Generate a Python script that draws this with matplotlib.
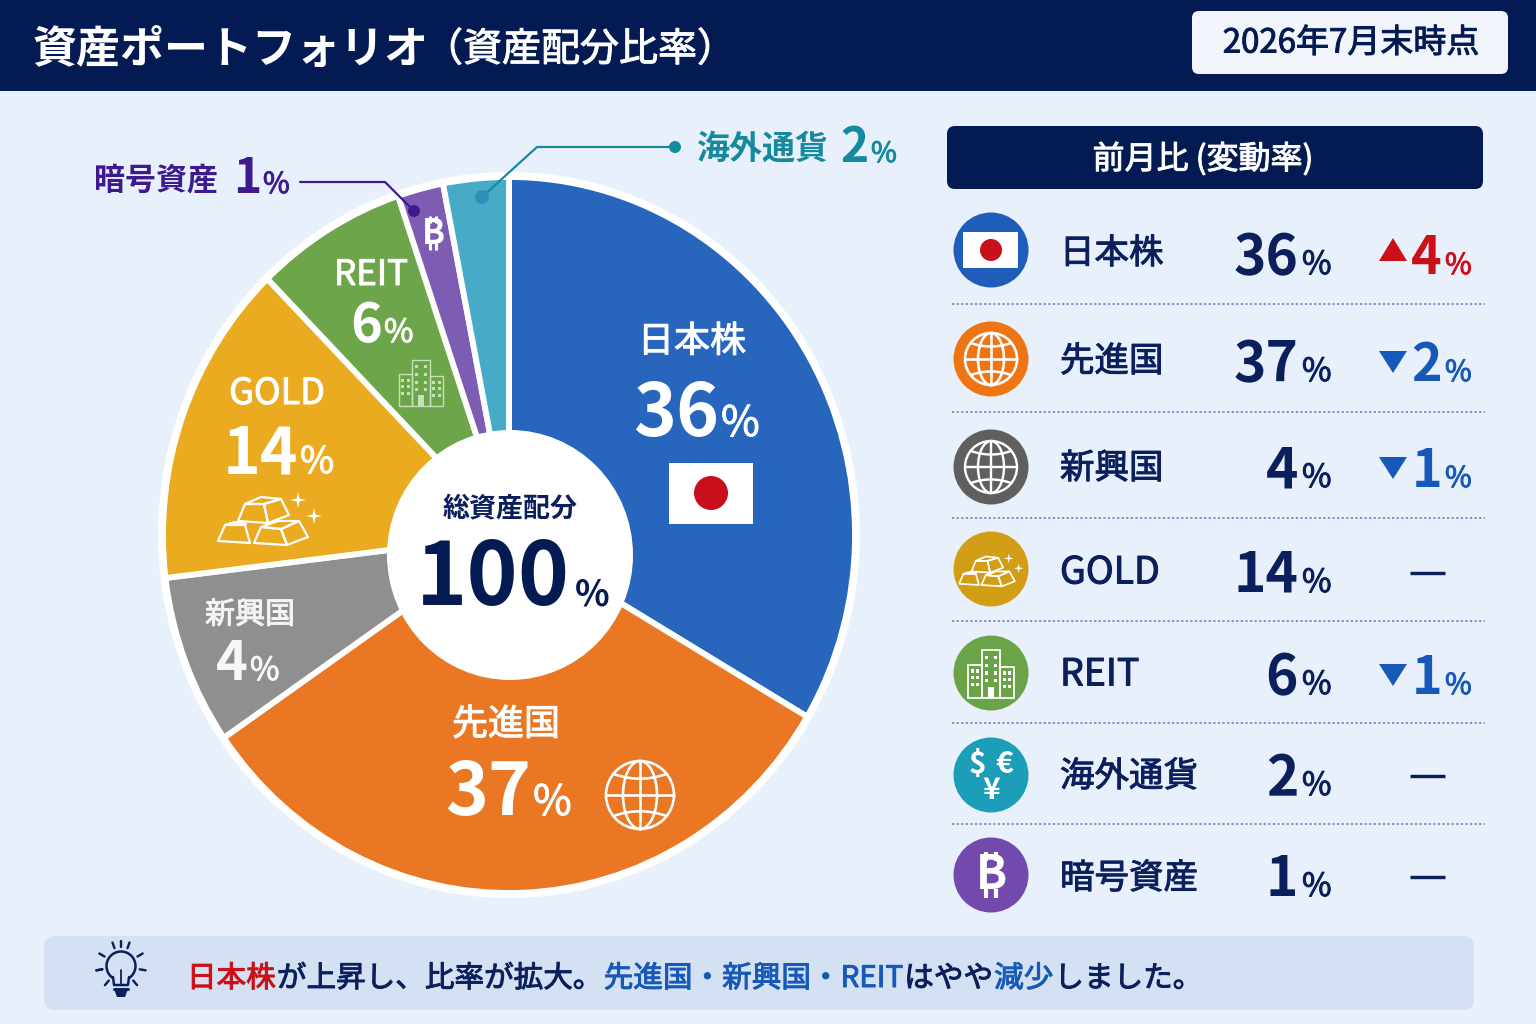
import numpy as np
import matplotlib
matplotlib.use("Agg")
import matplotlib.pyplot as plt
import matplotlib.patheffects as pe
from matplotlib.patches import Circle, Ellipse, Rectangle, FancyBboxPatch, Polygon

FONT = ['Noto Sans CJK JP', 'DejaVu Sans']
plt.rcParams['font.family'] = FONT

# ---- data
categories = ['日本株', '先進国', '新興国', 'GOLD', 'REIT', '海外通貨', '暗号資産']
shares = [36, 37, 4, 14, 6, 2, 1]
changes = [4, -2, -1, 0, -1, 0, 0]
# the slices as they are actually drawn in the picture (degrees of sweep)
slice_sweep = [120.5, 115.0, 27.6, 52.6, 25.6, 7.7, 11.0]
slice_colors = ['#2866BE', '#E97724', '#8F8F8F', '#EBAB20', '#6DA54A', '#7D5DB3', '#47ABC8']
icon_colors = ['#1F5DBB', '#EE7414', '#5F5F5F', '#D19E16', '#6BA448', '#1C9DB8', '#7249AC']
title = '資産ポートフォリオ'
subtitle = '（資産配分比率）'
date_label = '2026年7月末時点'
panel_title = '前月比 (変動率)'
center_title = '総資産配分'
center_value = 100
note_runs = [('日本株', 'red'), ('が上昇し、比率が拡大。', 'navy'), ('先進国・新興国・REIT', 'blue'),
             ('はやや', 'navy'), ('減少', 'blue'), ('しました。', 'navy')]

NAVY = '#0B1F5C'
HEAD = '#031B52'
RED = '#CC1018'
BLUE = '#1659B8'
PURPLE = '#3D1A8E'
TEAL = '#14899F'
run_colors = {'red': RED, 'navy': NAVY, 'blue': BLUE}

W, H = 1536, 1024
fig = plt.figure(figsize=(W / 100, H / 100), dpi=100, facecolor='#E8F1FB')

# ---- pie (drawn slightly elliptical, as in the reference)
CX, CY, RX, RY = 509, 535, 346, 358
PAD = 1.06
pie_ax = fig.add_axes([(CX - RX * PAD) / W, 1 - (CY + RY * PAD) / H, 2 * RX * PAD / W, 2 * RY * PAD / H], zorder=1)
pie_ax.add_patch(Circle((0, 0), 1.014, fc='white', ec='none', zorder=0))
pie_ax.pie(slice_sweep, colors=slice_colors, startangle=90, counterclock=False, radius=1,
           wedgeprops=dict(edgecolor='white', linewidth=4.2))
pie_ax.set_aspect('auto')
pie_ax.set_xlim(-PAD, PAD)
pie_ax.set_ylim(-PAD, PAD)
pie_ax.axis('off')

# ---- overlay in pixel coordinates
ax = fig.add_axes([0, 0, 1, 1], zorder=2)
ax.set_xlim(0, W)
ax.set_ylim(H, 0)
ax.axis('off')


def T(x, y, s, px, color='white', weight='bold', ha='left', va='baseline', family=None, **kw):
    t = ax.text(x, y, s, fontsize=px * 0.72, color=color, fontweight=weight, ha=ha, va=va,
                family=family or FONT, **kw)
    if weight == 'regular':  # the reference uses a medium weight
        t.set_path_effects([pe.withStroke(linewidth=0.7, foreground=color)])
    return t


def pct(x, y, num, npx, ppx, color, gap=4):
    T(x, y, str(num), npx, color, ha='right', zorder=5)
    T(x + gap, y, '%', ppx, color, weight='regular', zorder=5)


def rbox(x0, y0, x1, y1, r, fc, z=1, ec='none'):
    ax.add_patch(FancyBboxPatch((x0 + r, y0 + r), x1 - x0 - 2 * r, y1 - y0 - 2 * r,
                                boxstyle=f'round,pad={r},rounding_size={r}', fc=fc, ec=ec, zorder=z))


def L(xs, ys, color='white', lw=2, z=4, **kw):
    ax.plot(xs, ys, color=color, lw=lw * 0.72, zorder=z, solid_capstyle=kw.pop('cap', 'round'), **kw)


def globe(cx, cy, r, color='white', lw=3.0):
    ax.add_patch(Circle((cx, cy), r, fc='none', ec=color, lw=lw * 0.72, zorder=4))
    ax.add_patch(Ellipse((cx, cy), r * 1.0, 2 * r, fc='none', ec=color, lw=lw * 0.72, zorder=4))
    L([cx, cx], [cy - r, cy + r], color, lw)
    L([cx - r, cx + r], [cy, cy], color, lw)
    t = np.linspace(-1, 1, 40)
    for sgn in (-1, 1):
        yy = cy + sgn * (r * 0.62 - r * 0.14 * (1 - t ** 2))
        L(cx + t * r * 0.78, yy, color, lw)


def building(cx, cy, s, color='white', lw=2.0, alpha=1.0, win=True):
    def R(x0, y0, x1, y1):
        ax.add_patch(Rectangle((cx + x0 * s, cy + y0 * s), (x1 - x0) * s, (y1 - y0) * s, fc='none', ec=color,
                               lw=lw * 0.72, alpha=alpha, zorder=4))
    R(-9, -24, 9, 24)
    R(-23, -9, -9, 24)
    R(9, -7, 23, 24)
    if win:
        for col, rows, xs in ((0, (-17, -9, -1, 7), (-4.5, 4.5)), (1, (-3, 4, 11), (-19, -13.5)),
                              (2, (-1, 6, 13), (13.5, 19))):
            for yy in rows:
                for xx in xs:
                    ax.add_patch(Rectangle((cx + (xx - 1.6) * s, cy + (yy - 1.6) * s), 3.2 * s, 3.2 * s,
                                           fc=color, ec='none', alpha=alpha, zorder=4))
        ax.add_patch(Rectangle((cx - 3.5 * s, cy + 13 * s), 7 * s, 11 * s, fc=color, ec='none', alpha=alpha, zorder=4))


def star(cx, cy, r, color='white'):
    a = np.arange(8) * np.pi / 4
    rr = np.where(np.arange(8) % 2 == 0, r, r * 0.25)
    ax.add_patch(Polygon(np.c_[cx + rr * np.sin(a), cy - rr * np.cos(a)], fc=color, ec='none', zorder=4))


GOLD_FACES = [
    # top ingot
    [(-18, -18), (1, -18), (5, 1), (-25, -1)],
    [(-18, -18), (-2, -25), (18, -23), (1, -18)],
    [(1, -18), (18, -23), (26, -7), (5, 1)],
    # left ingot
    [(-38, 3), (-18, 3), (-13, 21), (-45, 19)],
    [(-38, 3), (-28, 0), (-17, 2)],
    # right ingot
    [(-2, 5), (18, 7), (24, 23), (-9, 21)],
    [(-2, 5), (15, -1), (36, -1), (18, 7)],
    [(18, 7), (36, -1), (45, 15), (24, 23)],
]


def gold(cx, cy, s, color='white', lw=2.2):
    for face in GOLD_FACES:
        pts = [(cx + a * s, cy + b * s) for a, b in face]
        ax.add_patch(Polygon(pts, fc='none', ec=color, lw=lw * 0.72, zorder=4, joinstyle='round'))
    star(cx + 35 * s, cy - 22 * s, 8 * s, color)
    star(cx + 51 * s, cy - 6 * s, 8 * s, color)


def bitcoin(cx, cy, px, color='white'):
    T(cx, cy, 'B', px, color, ha='center', va='center', zorder=5)
    for dx in (-0.1, 0.1):
        for a, b in ((-0.5, -0.3), (0.3, 0.5)):
            L([cx + dx * px, cx + dx * px], [cy + a * px, cy + b * px], color, px * 0.09, z=5, cap='butt')


# ---- header
ax.add_patch(Rectangle((0, 0), W, 91, fc=HEAD, ec='none', zorder=1))
T(32, 63, title, 44, 'white')
T(424, 61, subtitle, 39, 'white', weight='regular')
rbox(1192, 11, 1508, 74, 7, '#F2F6FC', z=2)
T(1351, 43, date_label, 33, HEAD, ha='center', va='center', weight='regular', zorder=3)

# ---- centre of the donut
ax.add_patch(Ellipse((510, 555), 246, 250, fc='white', ec='none', zorder=3))
T(510, 509, center_title, 27, NAVY, ha='center', va='center', zorder=5)
T(570, 605, str(center_value), 87, HEAD, ha='right', zorder=5)
T(575, 605, '%', 36, HEAD, zorder=5)

# ---- slice labels
T(692, 342, categories[0], 36, ha='center', va='center', weight='regular', zorder=5)
pct(719, 436, shares[0], 73, 42, 'white', gap=2)
ax.add_patch(Rectangle((669, 463), 84, 61, fc='white', ec='none', zorder=4))
ax.add_patch(Circle((711, 493), 17, fc='#C80F1B', ec='none', zorder=5))
T(506, 725, categories[1], 36, ha='center', va='center', weight='regular', zorder=5)
pct(531, 815, shares[1], 73, 42, 'white', gap=2)
globe(640, 795, 34, 'white', 2.6)
T(250, 615, categories[2], 30, ha='center', va='center', weight='regular', color='#F4F4F4', zorder=5)
pct(248, 680, shares[2], 54, 32, '#F7F7F7', gap=2)
T(277, 394, categories[3], 36, ha='center', va='center', weight='regular', zorder=5)
pct(298, 473, shares[3], 64, 37, 'white', gap=2)
gold(263, 522, 1.0, 'white', 2.2)
T(371, 275, categories[4], 35, ha='center', va='center', weight='regular', zorder=5)
pct(382, 342, shares[4], 54, 32, 'white', gap=2)
building(421, 383, 0.95, '#C9DFB9', 1.4, win=True)
bitcoin(433, 233, 34)

# ---- callouts
T(94, 180, categories[6], 31, PURPLE, ha='left', va='center')
pct(261, 193, shares[6], 48, 29, PURPLE, gap=2)
L([300, 385, 414], [182, 182, 211], PURPLE, 2.2)
ax.add_patch(Circle((414, 211), 6, fc=PURPLE, ec='none', zorder=5))
T(696, 149, categories[5], 33, TEAL, ha='left', va='center')
pct(869, 162, shares[5], 48, 28, TEAL, gap=2)
L([675, 537, 482], [147, 147, 197], TEAL, 2.2)
ax.add_patch(Circle((675, 147), 6, fc=TEAL, ec='none', zorder=5))
ax.add_patch(Circle((482, 197), 7, fc='#2A93B5', ec='none', zorder=5))

# ---- right panel
rbox(947, 126, 1483, 189, 8, HEAD, z=2)
T(1203, 159, panel_title, 32, 'white', ha='center', va='center', weight='regular', zorder=3)
icon_y = [250, 359, 467, 569, 673, 775, 875]
label_y = [254, 362, 469, 573, 675, 777, 879]
base_y = [274, 381, 487, 592, 694, 795, 896]
rule_y = [304, 412, 518, 621, 723, 824]
for y in rule_y:
    ax.plot([952, 1485], [y, y], color='#5F7FB8', lw=1.1, ls=(0, (1.5, 1.5)), zorder=2)

for i, cat in enumerate(categories):
    cy = icon_y[i]
    ax.add_patch(Circle((991, cy), 37.5, fc=icon_colors[i], ec='none', zorder=3))
    latin = cat in ('GOLD', 'REIT')
    T(1060, label_y[i], cat, 37.5 if latin else 34.5, NAVY, va='center', weight='regular', zorder=4)
    pct(1298, base_y[i], shares[i], 55, 32, NAVY)
    ch = changes[i]
    if ch == 0:
        L([1410, 1445], [base_y[i] - 19, base_y[i] - 19], NAVY, 3.4, cap='butt')
    else:
        col = RED if ch > 0 else BLUE
        m = base_y[i] - 24 + (0 if ch > 0 else 2)
        tip = (1393, m - 12) if ch > 0 else (1393, m + 14)
        yb = m + 11 if ch > 0 else m - 8
        ax.add_patch(Polygon([(1379, yb), (1407, yb), tip], fc=col, ec='none', zorder=4))
        pct(1442, base_y[i], abs(ch), 52, 29, col, gap=3)

# icons inside the circles
ax.add_patch(Rectangle((963, 232), 55, 36, fc='white', ec='none', zorder=4))
ax.add_patch(Circle((991, 250), 11, fc='#C80F1B', ec='none', zorder=5))
globe(991, 359, 26, 'white', 2.6)
globe(991, 467, 26, 'white', 2.4)
gold(987, 572, 0.62, 'white', 1.7)
building(991, 674, 0.98, 'white', 1.8)
T(977, 764, '$', 30, 'white', ha='center', va='center', zorder=5)
T(1004, 764, '€', 30, 'white', ha='center', va='center', zorder=5)
T(991, 790, '¥', 30, 'white', ha='center', va='center', zorder=5)
bitcoin(991, 875, 46)

# ---- note bar
rbox(44, 936, 1474, 1010, 11, '#D4E1F2', z=1)
ax.add_patch(Circle((121, 966), 14.5, fc='none', ec=NAVY, lw=1.8, zorder=4))
ax.add_patch(Rectangle((112, 977), 18, 14, fc='#D4E1F2', ec='none', zorder=4))
L([113, 114, 128, 129], [977, 985, 985, 977], NAVY, 2.5)
L([114, 128], [989, 989], NAVY, 3)
ax.add_patch(Polygon([(114, 989), (128, 989), (125, 997), (117, 997)], fc=NAVY, ec='none', zorder=4))
L([121, 121], [970, 985], NAVY, 1.8)
for a in (-100, -60, -20, 20, 60, 100, 140, 220, 260, 0):
    aa = np.deg2rad(a)
    L([121 + 19 * np.sin(aa), 121 + 25 * np.sin(aa)], [966 - 19 * np.cos(aa), 966 - 25 * np.cos(aa)], NAVY, 2.4)

rend = fig.canvas.get_renderer()
x = 187
for txt, key in note_runs:
    t = T(x, 987, txt, 29.6, run_colors[key], weight='regular', zorder=4)
    x = t.get_window_extent(rend).x1 + 1

fig.savefig('out.png', dpi=100, facecolor=fig.get_facecolor())
